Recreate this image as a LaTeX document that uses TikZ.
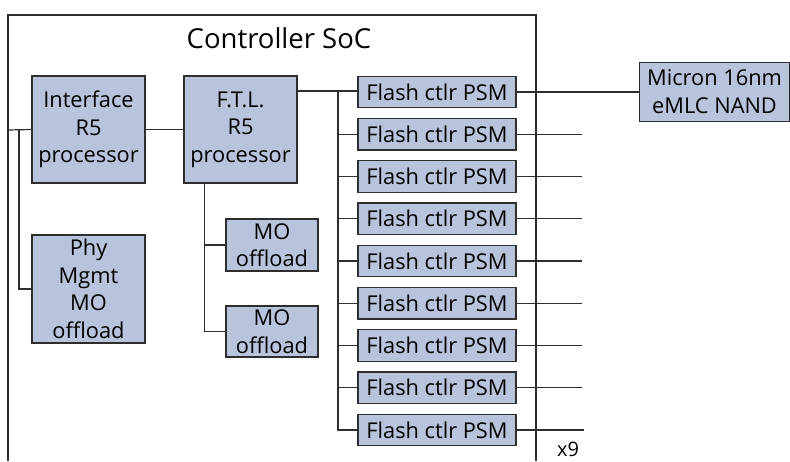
\documentclass[tikz,border=0pt]{standalone}
\usepackage{fontspec}
\setmainfont{Open Sans}
\definecolor{boxfill}{HTML}{B8C4DC}
\definecolor{linegrey}{HTML}{2E2E2E}
\begin{document}
\begin{tikzpicture}[x=1pt,y=-1pt,
  blk/.style={draw=linegrey, line width=1.4pt, fill=boxfill, inner sep=0pt, align=center,
    font=\fontsize{21.8}{27.5}\selectfont},
  conn/.style={draw=linegrey, line width=1.2pt},
  flashbox/.style={blk, minimum width=158pt, minimum height=31.5pt}
]
\useasboundingbox (0,0) rectangle (790,461);
% SoC outline
\draw[conn, line width=1.3pt] (8,461) -- (8,15) -- (536,15) -- (536,461);
\node[font=\fontsize{27.5}{30}\selectfont] (title) at (279,38) {Controller SoC};

\node[blk, minimum width=113pt, minimum height=107pt] (intf) at (88.5,129.5) {Interface\\R5\\processor};
\node[blk, minimum width=113pt, minimum height=107pt] (ftl) at (240.5,129.5) {F.T.L.\\R5\\processor};
\node[blk, minimum width=113pt, minimum height=108pt] (phy) at (88.5,289) {Phy\\Mgmt\\MO\\offload};
\node[blk, minimum width=92pt, minimum height=52pt] (mo1) at (272,245) {MO\\offload};
\node[blk, minimum width=92pt, minimum height=51pt] (mo2) at (272,331.5) {MO\\offload};
\node[blk, minimum width=150pt, minimum height=59pt] (nand) at (714.5,91.7) {Micron 16nm\\eMLC NAND};

\foreach \i in {1,...,9}{
  \node[flashbox] (f\i) at (437,{92+42.25*(\i-1)}) {Flash ctlr PSM};
}

% connectors
\coordinate (inl) at (8,130);
\coordinate (vl) at (19,130);
\draw[conn] (inl) -- (intf.west);
\draw[conn] (vl) -- (vl |- phy.west) -- (phy.west);
\draw[conn] (intf.east) -- (ftl.west);

\coordinate (busx) at (338,0);
\coordinate (ftlout) at (297,91);
\draw[conn] (ftlout) -- (busx |- ftlout) -- (f1.west |- ftlout);
\draw[conn] (busx |- ftlout) -- (busx |- f9.west) -- (f9.west);
\foreach \i in {2,...,8}{
  \draw[conn] (busx |- f\i.west) -- (f\i.west);
}

\coordinate (ftld) at (204.7,0);
\draw[conn] (ftld |- ftl.south) -- (ftld |- mo2.west) -- (mo2.west);
\draw[conn] (ftld |- mo1.west) -- (mo1.west);

\draw[conn] (f1.east) -- (nand.west |- f1.east);
\coordinate (outx) at (582,0);
\foreach \i in {2,...,8}{
  \coordinate (o\i) at (outx |- f\i.east);
  \draw[conn] (f\i.east) -- (o\i);
}
\coordinate (o9) at (584,0);
\draw[conn] (f9.east) -- (o9 |- f9.east);

\node[font=\fontsize{20}{24}\selectfont] (x9) at (568,449) {x9};
\end{tikzpicture}
\end{document}
